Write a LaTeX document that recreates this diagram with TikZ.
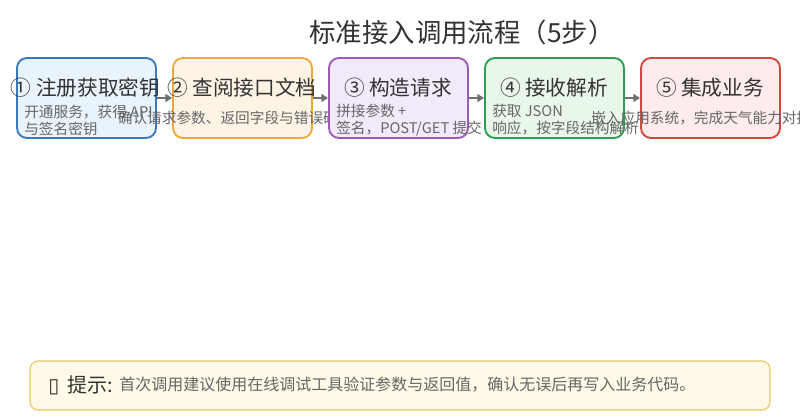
\documentclass[tikz,border=0pt]{standalone}
\usepackage{fontspec}
\setmainfont{Noto Sans CJK SC}
\newfontfamily\symfont{DejaVu Sans}
\usetikzlibrary{arrows.meta}

\definecolor{inkdark}{HTML}{333333}
\definecolor{inkgray}{HTML}{666666}
\definecolor{arrowgray}{HTML}{707070}
\definecolor{bluefill}{HTML}{E8F3FC}
\definecolor{blueline}{HTML}{3A78BE}
\definecolor{orangefill}{HTML}{FEF4E6}
\definecolor{orangeline}{HTML}{EEA93A}
\definecolor{purplefill}{HTML}{F2EAFB}
\definecolor{purpleline}{HTML}{9A5BB5}
\definecolor{greenfill}{HTML}{E8F7EA}
\definecolor{greenline}{HTML}{2E9E55}
\definecolor{redfill}{HTML}{FDECEB}
\definecolor{redline}{HTML}{D2483E}
\definecolor{tipfill}{HTML}{FFF9E8}
\definecolor{tipline}{HTML}{E7C465}

\tikzset{
  stagebox/.style={draw, rounded corners=7.5pt, line width=1.4pt, minimum width=104.25pt, minimum height=60pt, inner sep=0pt},
  stagetitle/.style={text=inkdark, font=\fontsize{15.5pt}{18pt}\selectfont, inner sep=0pt},
  stagenote/.style={text=inkgray, font=\fontsize{11pt}{12.75pt}\selectfont, inner sep=0pt, align=left},
  flowarrow/.style={draw=arrowgray, line width=0.9pt, -{Triangle[length=5pt,width=6pt]}},
}

\begin{document}
\begin{tikzpicture}[x=0.75pt, y=-0.75pt]
    \clip (0,0) rectangle (800,420);
    \fill[white] (0,0) rectangle (800,420);

    % Title
    \node[text=inkdark, font=\fontsize{19.8pt}{23pt}\selectfont, inner sep=0pt] at (462, 32) (title) {标准接入调用流程（5步）};

    % Steps
    \node[stagebox, fill=bluefill, draw=blueline] at (86.5, 98) (s1) {};
    \node[stagetitle] at (85.5, 88) (t1) {① 注册获取密钥};
    \node[stagenote, anchor=west] at (24, 120) (n1) {开通服务，获得 API\\与签名密钥};

    \node[stagebox, fill=orangefill, draw=orangeline] at (242.5, 98) (s2) {};
    \node[stagetitle] at (242, 88) (t2) {② 查阅接口文档};
    \node[stagenote] at (242.5, 118) (n2) {确认请求参数、返回字段与错误码说明};

    \node[stagebox, fill=purplefill, draw=purpleline] at (398.5, 98) (s3) {};
    \node[stagetitle] at (398, 88) (t3) {③ 构造请求};
    \node[stagenote, anchor=west] at (336, 120) (n3) {拼接参数 +\\签名，POST/GET 提交};

    \node[stagebox, fill=greenfill, draw=greenline] at (554.5, 98) (s4) {};
    \node[stagetitle] at (554, 88) (t4) {④ 接收解析};
    \node[stagenote, anchor=west] at (492, 120) (n4) {获取 JSON\\响应，按字段结构解析};

    \node[stagebox, fill=redfill, draw=redline] at (710.5, 98) (s5) {};
    \node[stagetitle] at (710, 88) (t5) {⑤ 集成业务};
    \node[stagenote, anchor=west] at (591, 118) (n5) {嵌入应用系统，完成天气能力对接};

    % Arrows
    \draw[flowarrow] (s1) -- (s2);
    \draw[flowarrow] (s2) -- (s3);
    \draw[flowarrow] (s3) -- (s4);
    \draw[flowarrow] (s4) -- (s5);

    % Tip
    \node[draw=tipline, fill=tipfill, line width=0.8pt, rounded corners=6pt, minimum width=555pt, minimum height=36.75pt, inner sep=0pt] at (400, 385.5) (tip) {};
    \node[text=inkdark, font=\fontsize{15pt}{18pt}\selectfont, inner sep=0pt, anchor=west] at (48, 385) (tiphead) {{\symfont ▯}\, 提示:};
    \node[text=inkgray, font=\fontsize{12pt}{14pt}\selectfont, inner sep=0pt, anchor=west] at (tiphead.east) (tiptext) {\, 首次调用建议使用在线调试工具验证参数与返回值，确认无误后再写入业务代码。};
\end{tikzpicture}
\end{document}
